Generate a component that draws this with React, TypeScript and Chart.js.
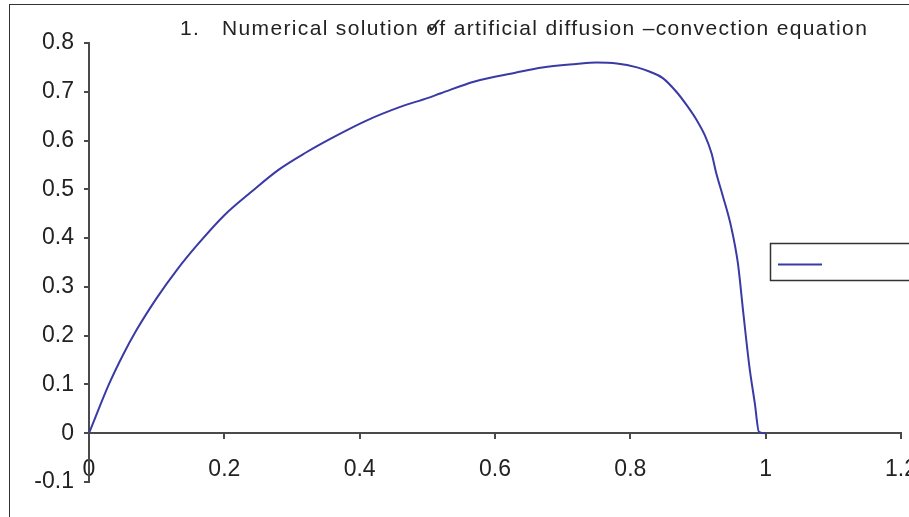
import React, { useEffect, useRef } from "react";
import { Chart, registerables } from "chart.js";

Chart.register(...registerables);

const xValues = [0, 0.03, 0.05, 0.07, 0.10, 0.13, 0.16, 0.20, 0.24, 0.28, 0.32, 0.36, 0.41, 0.46, 0.50, 0.52, 0.57, 0.63, 0.67, 0.72, 0.75, 0.78, 0.81, 0.829, 0.848, 0.868, 0.883, 0.898, 0.910, 0.920, 0.927, 0.937, 0.949, 0.959, 0.967, 0.976, 0.984, 0.990, 1.0];
const yValues = [0, 0.102, 0.16, 0.211, 0.277, 0.335, 0.386, 0.447, 0.495, 0.540, 0.575, 0.606, 0.641, 0.669, 0.687, 0.697, 0.721, 0.739, 0.750, 0.757, 0.760, 0.758, 0.750, 0.741, 0.728, 0.700, 0.673, 0.642, 0.611, 0.574, 0.533, 0.485, 0.423, 0.348, 0.246, 0.136, 0.061, 0.003, 0];
const titleNumber = "1.";
const titleBefore = "Numerical solution ";
const titleO = "o";
const titleAfter = "f artificial diffusion \u2013convection equation";

const LINE_COLOR = "#3a3aa6";
const AXIS_COLOR = "#4a4a4a";
const FONT = "'Liberation Sans', Arial, sans-serif";

const fmt = (v: any) => String(parseFloat(Number(v).toFixed(2)));

const legendPlugin = {
  id: "boxLegend",
  afterDraw(chart: any) {
    const ctx = chart.ctx;
    ctx.save();
    ctx.strokeStyle = "#333";
    ctx.lineWidth = 1.5;
    ctx.strokeRect(770.5, 243.5, 220, 37);
    ctx.strokeStyle = chart.data.datasets[0].borderColor;
    ctx.lineWidth = 2;
    ctx.beginPath();
    ctx.moveTo(778, 264.5);
    ctx.lineTo(822, 264.5);
    ctx.stroke();
    ctx.restore();
  },
};

export default function App() {
  const ref = useRef<HTMLCanvasElement | null>(null);

  useEffect(() => {
    if (!ref.current) return;
    const points = xValues.map((x, i) => ({ x, y: yValues[i] }));
    const chart = new Chart(ref.current, {
      type: "scatter",
      data: {
        datasets: [
          {
            data: points,
            showLine: true,
            borderColor: LINE_COLOR,
            borderWidth: 2,
            pointRadius: 0,
            cubicInterpolationMode: "monotone",
            fill: false,
          },
        ],
      },
      options: {
        responsive: false,
        animation: false,
        layout: { padding: { left: 0, top: 43, right: 59, bottom: 35 } },
        plugins: {
          legend: { display: false },
          title: { display: false },
          tooltip: { enabled: false },
        },
        scales: {
          x: {
            type: "linear",
            min: 0,
            max: 1.2,
            position: { y: 0 } as any,
            ticks: {
              stepSize: 0.2,
              color: "#222",
              padding: 18,
              maxRotation: 0,
              callback: fmt,
              font: { family: FONT, size: 23 },
            },
            grid: {
              display: true,
              drawOnChartArea: false,
              drawTicks: true,
              tickLength: 5,
              color: AXIS_COLOR,
              lineWidth: 2,
            },
            border: { display: true, color: AXIS_COLOR, width: 2 },
          },
          y: {
            type: "linear",
            min: -0.1,
            max: 0.8,
            position: "left",
            afterFit(scale: any) {
              scale.width = 89;
            },
            ticks: {
              stepSize: 0.1,
              color: "#222",
              padding: 10,
              callback: fmt,
              font: { family: FONT, size: 23 },
            },
            grid: {
              display: true,
              drawOnChartArea: false,
              drawTicks: true,
              tickLength: 5,
              color: AXIS_COLOR,
              lineWidth: 2,
            },
            border: { display: true, color: AXIS_COLOR, width: 2 },
          },
        },
      },
      plugins: [legendPlugin],
    });
    return () => chart.destroy();
  }, []);

  const textStyle: React.CSSProperties = {
    position: "absolute",
    top: 16,
    fontFamily: FONT,
    fontSize: 21,
    color: "#222",
    whiteSpace: "pre",
    lineHeight: "24px",
    letterSpacing: "1.35px",
  };

  return (
    <div
      style={{
        position: "fixed",
        left: 0,
        top: 0,
        width: 909,
        height: 517,
        overflow: "hidden",
        background: "#fff",
      }}
    >
      <div
        style={{
          position: "absolute",
          left: 9,
          top: 4,
          width: 1100,
          height: 700,
          border: "1px solid #333",
        }}
      />
      <canvas
        ref={ref}
        width={960}
        height={517}
        style={{ position: "absolute", left: 0, top: 0, width: 960, height: 517 }}
      />
      <div style={{ ...textStyle, left: 180 }}>{titleNumber}</div>
      <div style={{ ...textStyle, left: 222 }}>
        {titleBefore}
        <span style={{ position: "relative" }}>
          {titleO}
          <span style={{ position: "absolute", left: 0, top: -2 }}>{"\u2713"}</span>
        </span>
        {titleAfter}
      </div>
    </div>
  );
}
